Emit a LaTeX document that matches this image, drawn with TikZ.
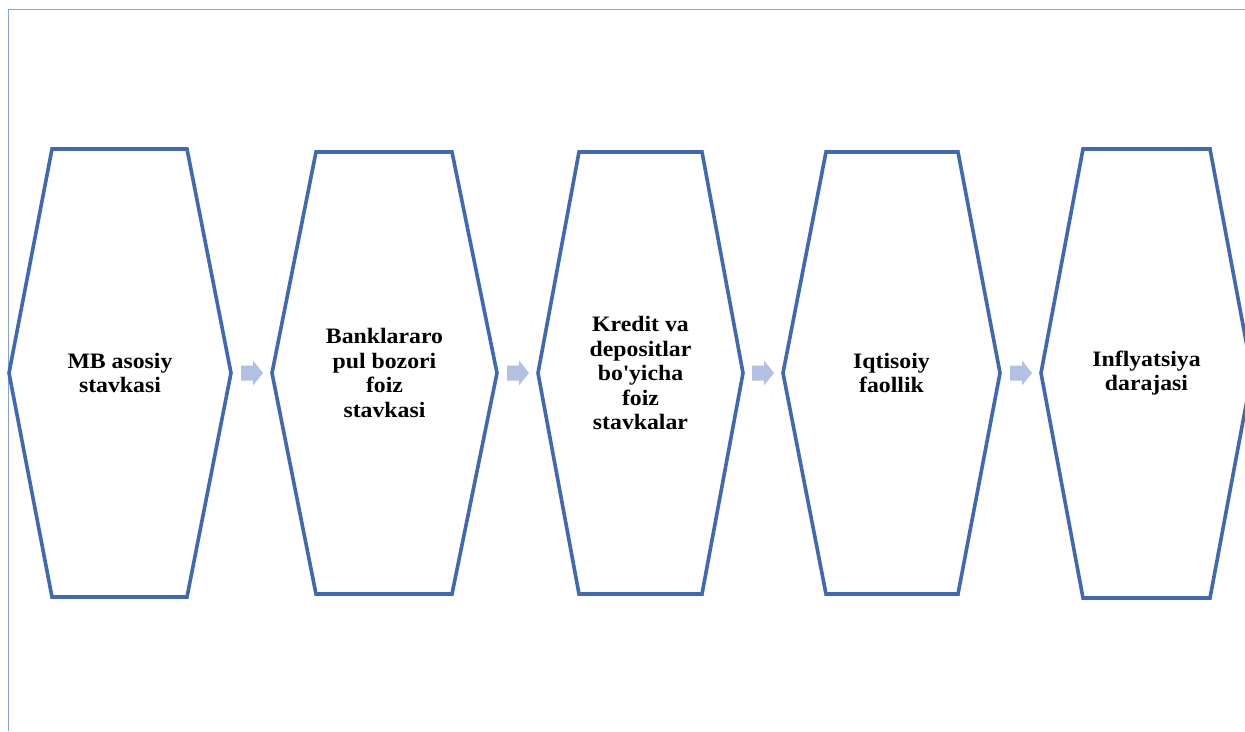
\documentclass[tikz,border=0pt]{standalone}
\usepackage{fontspec}
\setmainfont{Liberation Serif}
\newfontfamily\hexfont[FakeStretch=1.08]{Liberation Serif}
\definecolor{hexblue}{HTML}{3F69B3}
\definecolor{frameblue}{HTML}{7FA3DA}
\definecolor{arrowblue}{HTML}{B3C0E3}
\tikzset{
  hexline/.style={draw=hexblue, line width=3.6pt, line join=miter},
  hextext/.style={align=center, font=\hexfont\bfseries\fontsize{22}{24.5}\selectfont, text=black, inner sep=0pt},
  pics/blockarrow/.style={code={
    \fill[arrowblue] (0,-7.5) -- (12,-7.5) -- (12,-12.5) -- (22,0) -- (12,12.5) -- (12,7.5) -- (0,7.5) -- cycle;
  }}
}
% #1 name, #2 L, #3 tl, #4 tr, #5 R, #6 top, #7 bottom, #8 text
\newcommand{\hexbox}[8]{%
  \draw[hexline] (#2,373) -- (#3,#6) -- (#4,#6) -- (#5,373) -- (#4,#7) -- (#3,#7) -- cycle;
  \node[hextext] (#1) at ({(#2+#5)/2},373) {#8};
}
\begin{document}
\begin{tikzpicture}[x=1pt,y=-1pt]
\useasboundingbox (0,0) rectangle (1245,731);
\clip (0,0) rectangle (1245,731);
\fill[white] (0,0) rectangle (1245,731);
\draw[frameblue, line width=1pt] (8,731) -- (8,9) -- (1245,9);
\hexbox{h1}{9}{52}{187}{231}{149}{597}{MB asosiy\\stavkasi}
\hexbox{h2}{272}{316}{452}{497}{152}{594}{Banklararo\\pul bozori\\foiz\\stavkasi}
\hexbox{h3}{538}{579}{702}{743}{152}{594}{Kredit va\\depositlar\\bo\textquotesingle yicha\\foiz\\stavkalar}
\hexbox{h4}{783}{826}{958}{1000}{152}{594}{Iqtisoiy\\faollik}
\hexbox{h5}{1041}{1083}{1210}{1252}{149}{598}{Inflyatsiya\\darajasi}
\pic at (241,373) {blockarrow};
\pic at (507,373) {blockarrow};
\pic at (752,373) {blockarrow};
\pic at (1010,373) {blockarrow};
\end{tikzpicture}
\end{document}
